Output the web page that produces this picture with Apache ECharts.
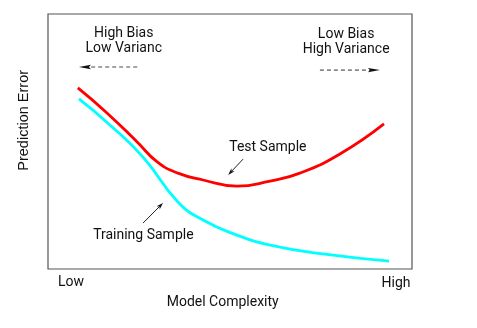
<!DOCTYPE html>
<html>
<head>
<meta charset="utf-8">
<script src="https://cdn.jsdelivr.net/npm/echarts@6/dist/echarts.min.js"></script>
<style>html,body{margin:0;padding:0;background:#fff;}#c{width:477px;height:328px;}</style>
</head>
<body>
<div id="c"></div>
<script>
// Data (model complexity 0..10, prediction error 0..10)
const testX  = [0.82, 1.62, 2.45, 3.00, 3.57, 4.26, 5.19, 6.10, 6.92, 8.02, 9.23];
const testY  = [7.10, 6.12, 4.98, 4.20, 3.76, 3.49, 3.25, 3.45, 3.76, 4.51, 5.69];
const trainX = [0.85, 1.70, 2.61, 3.57, 4.26, 5.19, 6.10, 7.55, 9.37];
const trainY = [6.67, 5.65, 4.39, 2.63, 1.92, 1.33, 0.94, 0.59, 0.31];
const xTickLabels = ['Low', 'High'];
const xTitle = 'Model Complexity';
const yTitle = 'Prediction Error';

// Annotations in data coordinates
const arrows = [
  {from: [2.45, 7.92], to: [0.85, 7.92], dashed: true},
  {from: [7.47, 7.80], to: [9.12, 7.80], dashed: true},
  {from: [5.36, 4.31], to: [4.95, 3.69], dashed: false},
  {from: [2.61, 1.80], to: [3.16, 2.59], dashed: false}
];
const notes = [
  {text: 'High Bias', at: [2.08, 9.25]},
  {text: 'Low Varianc', at: [2.08, 8.66]},
  {text: 'Low Bias', at: [8.19, 9.21]},
  {text: 'High Variance', at: [8.19, 8.62]},
  {text: 'Test Sample', at: [6.04, 4.75]},
  {text: 'Training Sample', at: [2.62, 1.33]}
];

const zip = (xs, ys) => xs.map((x, i) => [x, ys[i]]);
const chart = echarts.init(document.getElementById('c'), null, {renderer: 'canvas'});
const FONT = 'Roboto';
const FS = 14;

chart.setOption({
  animation: false,
  grid: {left: 48, right: 65, top: 14, bottom: 59, show: true, borderColor: '#555', borderWidth: 1.2, backgroundColor: '#fff'},
  xAxis: {type: 'value', min: 0, max: 10, axisLine: {show: false}, axisTick: {show: false}, axisLabel: {show: false}, splitLine: {show: false}},
  yAxis: {type: 'value', min: 0, max: 10, axisLine: {show: false}, axisTick: {show: false}, axisLabel: {show: false}, splitLine: {show: false}},
  series: [
    {type: 'line', data: zip(testX, testY), smooth: 0.5, symbol: 'none', lineStyle: {color: '#ff0000', width: 2.8}},
    {type: 'line', data: zip(trainX, trainY), smooth: 0.5, symbol: 'none', lineStyle: {color: '#00ffff', width: 2.8}}
  ]
});

function px(p) { return chart.convertToPixel({gridIndex: 0}, p); }

const g = [];
arrows.forEach(a => {
  const f = px(a.from), t = px(a.to);
  const dx = t[0] - f[0], dy = t[1] - f[1];
  const len = Math.sqrt(dx * dx + dy * dy);
  const ux = dx / len, uy = dy / len;
  const hl = a.dashed ? 12 : 7, hw = 2.2;
  const bx = t[0] - ux * hl, by = t[1] - uy * hl;
  g.push({type: 'line', shape: {x1: f[0], y1: f[1], x2: bx + ux * 2, y2: by + uy * 2},
    style: {stroke: a.dashed ? '#888' : '#222', lineWidth: a.dashed ? 1.6 : 1, lineDash: a.dashed ? [4, 3] : null}});
  g.push({type: 'polygon', shape: {points: [[t[0], t[1]], [bx - uy * hw, by + ux * hw], [bx + ux * 2, by + uy * 2], [bx + uy * hw, by - ux * hw]]},
    style: {fill: '#111'}});
});
notes.forEach(n => {
  const p = px(n.at);
  g.push({type: 'text', x: p[0], y: p[1], style: {text: n.text, fill: '#111', font: FS + 'px ' + FONT, align: 'center', verticalAlign: 'middle'}});
});
// axis end labels and titles
const lowP = px([0.63, 0]), highP = px([9.56, 0]), midP = px([4.8, 0]);
g.push({type: 'text', x: lowP[0], y: lowP[1] + 13, style: {text: xTickLabels[0], fill: '#111', font: FS + 'px ' + FONT, align: 'center', verticalAlign: 'middle'}});
g.push({type: 'text', x: highP[0], y: highP[1] + 14, style: {text: xTickLabels[1], fill: '#111', font: FS + 'px ' + FONT, align: 'center', verticalAlign: 'middle'}});
g.push({type: 'text', x: midP[0], y: midP[1] + 33, style: {text: xTitle, fill: '#111', font: FS + 'px ' + FONT, align: 'center', verticalAlign: 'middle'}});
const yP = px([0, 5.83]);
g.push({type: 'text', x: 24, y: yP[1], rotation: Math.PI / 2, style: {text: yTitle, fill: '#111', font: '14.5px "Liberation Sans"', align: 'center', verticalAlign: 'middle'}});

chart.setOption({graphic: g});
</script>
</body>
</html>
